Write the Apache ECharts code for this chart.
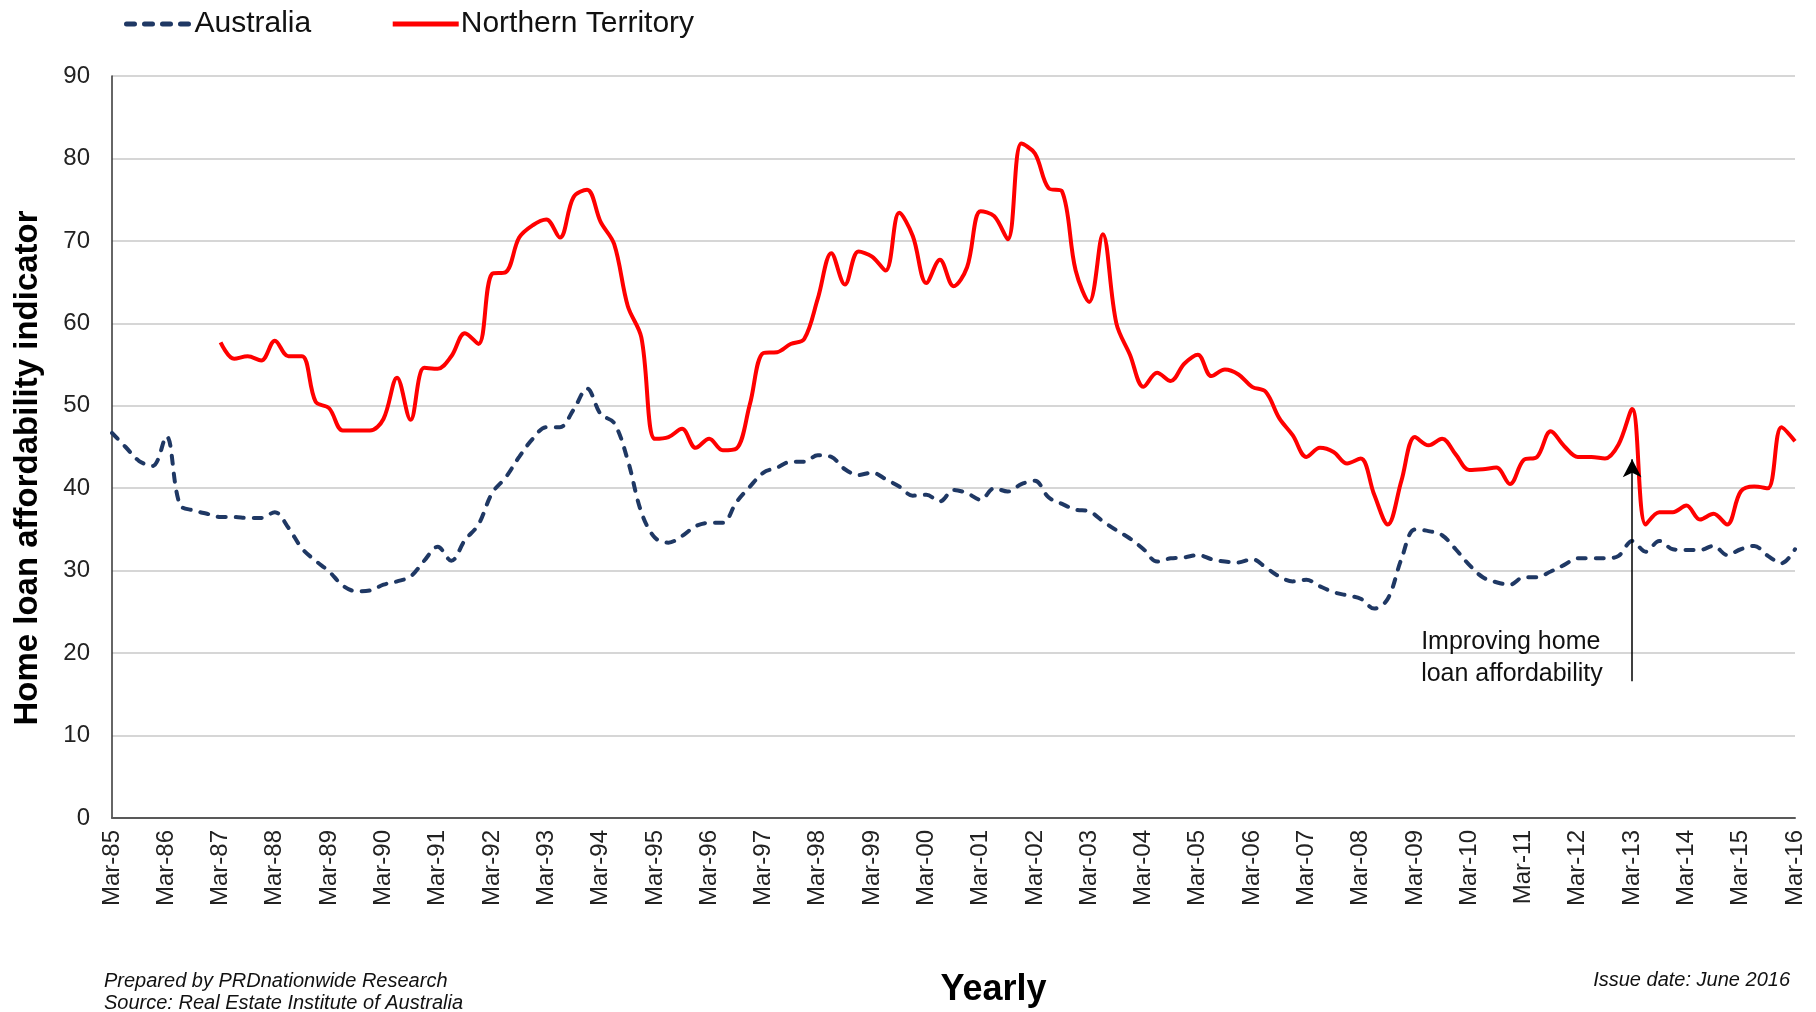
<!DOCTYPE html>
<html>
<head>
<meta charset="utf-8">
<script src="https://cdn.jsdelivr.net/npm/echarts@6/dist/echarts.min.js"></script>
<style>
  html, body { margin: 0; padding: 0; background: #fff; }
  #chart { width: 1816px; height: 1012px; }
</style>
</head>
<body>
<div id="chart"></div>
<script>
var dom = document.getElementById('chart');
var myChart = echarts.init(dom, null, { renderer: 'canvas' });

// quarterly categories Mar-85 .. Mar-16
var quarterNames = ['Mar', 'Jun', 'Sep', 'Dec'];
var categories = [];
for (var y = 1985; y <= 2016; y++) {
    for (var q = 0; q < 4; q++) {
        if (y === 2016 && q > 0) break;
        categories.push(quarterNames[q] + '-' + String(y).slice(2));
    }
}

var australia = [
    46.7, 45.0, 43.3, 42.7, 46.3, 38.0, 37.3, 36.9, 36.5, 36.5,
    36.4, 36.4, 37.1, 35.2, 32.7, 31.2, 29.9, 28.2, 27.5, 27.6,
    28.3, 28.7, 29.3, 31.2, 32.9, 31.2, 33.7, 35.6, 39.4, 41.3,
    43.8, 46.0, 47.4, 47.4, 49.5, 52.1, 49.0, 47.9, 43.4, 37.1,
    34.0, 33.4, 34.2, 35.4, 35.8, 35.8, 38.3, 40.2, 41.9, 42.5,
    43.2, 43.2, 44.0, 43.8, 42.3, 41.6, 41.9, 41.1, 40.2, 39.1,
    39.2, 38.4, 39.8, 39.4, 38.6, 40.0, 39.6, 40.5, 40.9, 38.9,
    38.1, 37.4, 37.2, 36.0, 34.9, 33.9, 32.6, 31.1, 31.5, 31.6,
    31.9, 31.4, 31.1, 31.0, 31.4, 30.4, 29.3, 28.7, 28.9, 28.1,
    27.4, 27.0, 26.6, 25.4, 26.6, 31.4, 35.0, 34.8, 34.3, 32.6,
    30.7, 29.2, 28.6, 28.3, 29.2, 29.2, 29.9, 30.7, 31.5, 31.5,
    31.5, 31.8, 33.6, 32.3, 33.6, 32.6, 32.5, 32.5, 33.0, 31.9,
    32.6, 33.0, 31.8, 30.9, 32.6
];

var northernTerritory = [
    '-', '-', '-', '-', '-', '-', '-', '-', 57.7, 55.7,
    56.0, 55.5, 57.9, 56.0, 56.0, 50.5, 49.7, 47.0, 47.0, 47.0,
    48.4, 53.4, 48.3, 54.6, 54.5, 56.0, 58.8, 57.5, 66.0, 66.2,
    70.4, 71.9, 72.6, 70.4, 75.3, 76.2, 72.3, 69.6, 62.1, 58.3,
    46.0, 46.2, 47.2, 44.9, 46.0, 44.6, 44.8, 50.2, 56.4, 56.5,
    57.5, 58.1, 63.0, 68.5, 64.7, 68.7, 68.1, 66.4, 73.4, 70.6,
    64.9, 67.7, 64.5, 66.8, 73.6, 73.0, 70.2, 81.8, 80.6, 76.4,
    76.0, 66.4, 62.6, 70.8, 60.0, 56.2, 52.3, 54.0, 53.0, 55.1,
    56.2, 53.6, 54.4, 53.8, 52.3, 51.7, 48.5, 46.4, 43.8, 44.9,
    44.4, 43.0, 43.6, 39.2, 35.6, 40.9, 46.2, 45.2, 46.0, 44.1,
    42.2, 42.3, 42.5, 40.5, 43.4, 43.8, 46.9, 45.1, 43.8, 43.8,
    43.6, 45.3, 49.6, 35.6, 37.1, 37.1, 37.9, 36.2, 36.9, 35.6,
    39.6, 40.2, 40.0, 47.4, 45.7
];

// annotation arrow (category, from value, to value)
var arrowAt = 'Mar-13';
var arrowFrom = 16.6;
var arrowTo = 43.5;

var font = "'Liberation Sans', Arial, sans-serif";

var option = {
    backgroundColor: '#ffffff',
    textStyle: { fontFamily: font },
    animation: false,
    legend: {
        left: 119,
        top: 4,
        itemWidth: 66,
        itemHeight: 14,
        itemGap: 79,
        itemStyle: { color: 'transparent', borderWidth: 0, opacity: 0 },
        lineStyle: { width: 5 },
        textStyle: { fontSize: 30, color: '#111', fontFamily: font, padding: [0, 0, 0, -3] },
        data: ['Australia', 'Northern Territory']
    },
    grid: {
        left: 112,
        right: 21,
        top: 76,
        bottom: 194,
        outerBoundsMode: 'none'
    },
    xAxis: {
        type: 'category',
        data: categories,
        boundaryGap: false,
        name: 'Yearly',
        nameLocation: 'middle',
        nameGap: 154,
        nameTextStyle: { fontSize: 36, fontWeight: 'bold', color: '#000', padding: [0, 0, 0, 80] },
        axisLine: { lineStyle: { color: '#595959', width: 2 } },
        axisTick: { show: false },
        axisLabel: {
            interval: 3,
            rotate: 90,
            fontSize: 24,
            color: '#222',
            margin: 12
        },
        splitLine: { show: false }
    },
    yAxis: {
        type: 'value',
        min: 0,
        max: 90,
        interval: 10,
        name: 'Home loan affordability indicator',
        nameLocation: 'middle',
        nameGap: 68,
        nameTextStyle: { fontSize: 33, fontWeight: 'bold', color: '#000', padding: [0, 42, 0, 0] },
        axisLine: { show: true, lineStyle: { color: '#333', width: 1.5 } },
        axisTick: { show: false },
        axisLabel: { fontSize: 24, color: '#222', margin: 22 },
        splitLine: { lineStyle: { color: '#c8c8c8', width: 1.5 } }
    },
    series: [
        {
            name: 'Australia',
            type: 'line',
            data: australia,
            symbol: 'none',
            smooth: 0.35,
            color: '#1f3864',
            lineStyle: { color: '#1f3864', width: 4, type: [8, 10], cap: 'round' },
            z: 3
        },
        {
            name: 'Northern Territory',
            type: 'line',
            data: northernTerritory,
            symbol: 'none',
            smooth: 0.35,
            color: '#ff0000',
            lineStyle: { color: '#ff0000', width: 4 },
            z: 4,
            markLine: {
                silent: true,
                symbol: ['none', 'arrow'],
                symbolSize: [14, 18],
                lineStyle: { color: '#000', width: 1.5, type: 'solid' },
                label: { show: false },
                data: [[
                    { coord: [arrowAt, arrowFrom] },
                    { coord: [arrowAt, arrowTo] }
                ]]
            }
        }
    ]
};

myChart.setOption(option);

// annotation text and footer notes
var anchor = myChart.convertToPixel({ gridIndex: 0 }, [arrowAt, 21.2]);
myChart.setOption({
    graphic: [
        {
            type: 'text',
            left: anchor[0] - 211,
            top: anchor[1] - 17,
            style: {
                text: 'Improving home\nloan affordability',
                font: '25px ' + font,
                fill: '#111',
                lineHeight: 32
            }
        },
        {
            type: 'text',
            left: 104,
            top: 970,
            style: {
                text: 'Prepared by PRDnationwide Research\nSource: Real Estate Institute of Australia',
                font: 'italic 20px ' + font,
                fill: '#111',
                lineHeight: 22
            }
        },
        {
            type: 'text',
            right: 26,
            top: 970,
            style: {
                text: 'Issue date: June 2016',
                font: 'italic 20px ' + font,
                fill: '#111'
            }
        }
    ]
});

window.addEventListener('resize', myChart.resize);
</script>
</body>
</html>
